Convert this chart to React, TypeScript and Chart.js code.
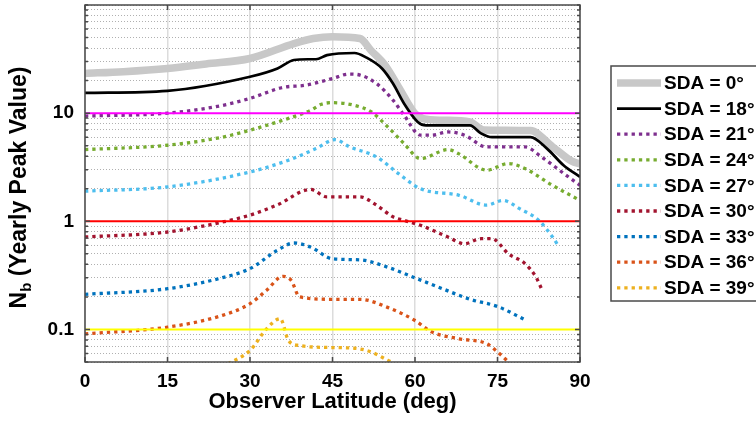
import { useEffect, useRef } from 'react';
import { Chart, registerables } from 'chart.js';

Chart.register(...registerables);

const FONT = '"Liberation Sans", Arial, Helvetica, sans-serif';

// ---- data ----
const LAT_0 = [0, 7, 15, 22, 30, 38, 41.5, 45, 50, 52, 54.5, 57, 60, 61.5, 65, 70, 72.5, 81, 85, 88.5, 90];
const NB_0 = [23.3, 24.2, 25.9, 28.5, 32, 44, 49, 51, 49, 38, 28, 17.5, 9.9, 8.9, 8.6, 8.3, 7.0, 6.9, 4.9, 3.6, 3.4];

const LAT_18 = [0, 15, 30, 35, 38, 40.5, 42, 44, 49, 51, 54, 56, 58, 60.5, 62, 70, 72, 74, 81, 84, 87, 90];
const NB_18 = [15.4, 16.1, 21.7, 25.9, 31, 31.5, 31.5, 34.4, 36, 33, 25.9, 18.8, 12.3, 8.3, 7.7, 7.7, 6.5, 6.0, 6.0, 4.7, 3.3, 2.57];

const LAT_21 = [0, 15, 25, 30, 36, 40, 45, 48, 50, 53, 56, 58, 61, 63, 66, 69, 73, 80, 83, 87, 90];
const NB_21 = [9.4, 10.0, 11.8, 13.7, 17.3, 18.1, 20.9, 23, 22.5, 18.8, 13.2, 9.6, 6.25, 6.25, 6.7, 6.25, 4.87, 4.87, 3.94, 2.78, 2.15];

const LAT_24 = [0, 15, 25, 30, 37, 41, 43, 45, 49, 52, 55, 58, 61, 66, 68, 73, 77, 80, 85, 90];
const NB_24 = [4.6, 5.05, 6.0, 6.96, 8.94, 10.6, 12.1, 12.5, 11.8, 10.3, 7.5, 5.24, 3.8, 4.6, 4.2, 2.97, 3.42, 3.07, 2.15, 1.56];

const LAT_27 = [0, 15, 30, 37, 42, 45.5, 48, 53, 57, 61, 68, 73, 76, 79, 82.5, 85, 86];
const NB_27 = [1.9, 2.08, 2.86, 3.67, 4.7, 5.7, 4.9, 3.94, 2.76, 2.0, 1.74, 1.41, 1.56, 1.31, 1.02, 0.716, 0.6];

const LAT_30 = [0, 15, 25, 30, 35, 41, 44, 50, 53, 56, 58, 61, 66, 69, 72, 74, 77, 80, 82, 83];
const NB_30 = [0.716, 0.796, 0.985, 1.14, 1.42, 1.97, 1.68, 1.68, 1.41, 1.1, 1.02, 0.918, 0.716, 0.62, 0.69, 0.69, 0.5, 0.406, 0.305, 0.238];

const LAT_33 = [0, 15, 25, 30, 35, 38, 41, 45, 50, 55, 60, 65, 70, 75, 80];
const NB_33 = [0.211, 0.238, 0.301, 0.365, 0.54, 0.63, 0.578, 0.45, 0.44, 0.377, 0.3, 0.238, 0.19, 0.163, 0.123];

const LAT_36 = [0, 15, 25, 30, 33, 36, 37.5, 39, 45, 50, 55, 60, 63, 68, 73, 75, 77];
const NB_36 = [0.091, 0.105, 0.135, 0.173, 0.23, 0.31, 0.284, 0.2, 0.19, 0.19, 0.16, 0.121, 0.095, 0.082, 0.074, 0.062, 0.05];

const LAT_39 = [26, 30, 33, 35.5, 37, 39, 45, 49, 52, 55, 56];
const NB_39 = [0.048, 0.064, 0.101, 0.126, 0.079, 0.071, 0.068, 0.067, 0.062, 0.052, 0.049];

const SERIES_LABELS = ['SDA = 0°', 'SDA = 18°', 'SDA = 21°', 'SDA = 24°', 'SDA = 27°', 'SDA = 30°', 'SDA = 33°', 'SDA = 36°', 'SDA = 39°'];
const SERIES_LATS = [LAT_0, LAT_18, LAT_21, LAT_24, LAT_27, LAT_30, LAT_33, LAT_36, LAT_39];
const SERIES_VALUES = [NB_0, NB_18, NB_21, NB_24, NB_27, NB_30, NB_33, NB_36, NB_39];

const REF_LEVELS = [10, 1, 0.1];
const X_RANGE = [0, 90];
const X_STEP = 15;
const Y_RANGE = [0.05, 100];
const Y_GRID_VALUES = [
  0.05, 0.06, 0.07, 0.08, 0.09,
  0.1, 0.2, 0.3, 0.4, 0.5, 0.6, 0.7, 0.8, 0.9,
  1, 2, 3, 4, 5, 6, 7, 8, 9,
  10, 20, 30, 40, 50, 60, 70, 80, 90, 100,
];
const Y_TICK_LABELS = [0.1, 1, 10];

// ---- styles ----
const SERIES_COLORS = ['#c8c8c8', '#000000', '#7e2f8e', '#77ac30', '#4dbeee', '#a2142f', '#0072bd', '#d95319', '#edb120'];
const SERIES_WIDTHS = [7.5, 2.7, 3.3, 3.3, 3.3, 3.3, 3.3, 3.3, 3.3];
const SERIES_DOTTED = [false, false, true, true, true, true, true, true, true];
const DOT_DASH = [3.3, 4];
const REF_COLORS = ['#ff00ff', '#ff0000', '#ffff00'];

const framePlugin = {
  id: 'frame',
  afterDatasetsDraw(chart: any) {
    const { ctx, chartArea: a, scales } = chart;
    ctx.save();
    ctx.strokeStyle = '#4a4a4a';
    ctx.lineWidth = 1.5;
    ctx.setLineDash([]);
    ctx.beginPath();
    for (const v of Y_GRID_VALUES) {
      const y = scales.y.getPixelForValue(v);
      const len = Y_TICK_LABELS.includes(v) ? 5 : 3;
      ctx.moveTo(a.left, y);
      ctx.lineTo(a.left + len, y);
      ctx.moveTo(a.right, y);
      ctx.lineTo(a.right - len, y);
    }
    for (const t of scales.x.ticks) {
      const x = scales.x.getPixelForValue(t.value);
      ctx.moveTo(x, a.top);
      ctx.lineTo(x, a.top + 5);
      ctx.moveTo(x, a.bottom);
      ctx.lineTo(x, a.bottom - 5);
    }
    ctx.stroke();
    ctx.strokeRect(a.left, a.top, a.right - a.left, a.bottom - a.top);
    ctx.restore();
  },
  afterDraw(chart: any) {
    const { ctx, chartArea: a } = chart;
    // y axis title with subscript
    ctx.save();
    const cy = (a.top + a.bottom) / 2 + 4;
    ctx.translate(26, cy);
    ctx.rotate(-Math.PI / 2);
    ctx.fillStyle = '#000';
    ctx.textBaseline = 'alphabetic';
    const big = `bold 23px ${FONT}`;
    const small = `bold 15px ${FONT}`;
    ctx.font = big;
    const wN = ctx.measureText('N').width;
    const rest = ' (Yearly Peak Value)';
    const wR = ctx.measureText(rest).width;
    ctx.font = small;
    const wb = ctx.measureText('b').width;
    const total = wN + wb + wR;
    let x = -total / 2;
    ctx.font = big;
    ctx.textAlign = 'left';
    ctx.fillText('N', x, 0);
    x += wN;
    ctx.font = small;
    ctx.fillText('b', x, 5);
    x += wb;
    ctx.font = big;
    ctx.fillText(rest, x, 0);
    ctx.restore();

    // legend
    ctx.save();
    const boxL = 611, boxT = 66, boxB = 301;
    ctx.fillStyle = '#ffffff';
    ctx.fillRect(boxL, boxT, 200, boxB - boxT);
    ctx.strokeStyle = '#4a4a4a';
    ctx.lineWidth = 1.5;
    ctx.strokeRect(boxL, boxT, 200, boxB - boxT);
    ctx.font = `bold 19px ${FONT}`;
    ctx.textBaseline = 'middle';
    ctx.textAlign = 'left';
    let row = 0;
    chart.data.datasets.forEach((ds: any) => {
      if (!ds.inLegend) return;
      const y = 83 + row * 25.6;
      ctx.beginPath();
      ctx.strokeStyle = ds.borderColor;
      ctx.lineWidth = ds.borderWidth;
      ctx.setLineDash(ds.borderDash || []);
      ctx.moveTo(617, y);
      ctx.lineTo(661, y);
      ctx.stroke();
      ctx.setLineDash([]);
      ctx.fillStyle = '#000';
      ctx.fillText(ds.label, 664, y + 1);
      row++;
    });
    ctx.restore();
  },
};

export default function App() {
  const ref = useRef<HTMLCanvasElement>(null);
  useEffect(() => {
    const canvas = ref.current;
    if (!canvas) return;
    const datasets: any[] = SERIES_LABELS.map((label, i) => ({
      label,
      inLegend: true,
      data: SERIES_LATS[i].map((lat, j) => ({ x: lat, y: SERIES_VALUES[i][j] })),
      borderColor: SERIES_COLORS[i],
      backgroundColor: SERIES_COLORS[i],
      borderWidth: SERIES_WIDTHS[i],
      borderDash: SERIES_DOTTED[i] ? DOT_DASH : [],
      cubicInterpolationMode: 'monotone',
      pointRadius: 0,
      fill: false,
      clip: 0,
      order: 100 - i,
    }));
    REF_LEVELS.forEach((lvl, i) => {
      datasets.push({
        label: `ref ${lvl}`,
        inLegend: false,
        data: X_RANGE.map((x) => ({ x, y: lvl })),
        borderColor: REF_COLORS[i],
        borderWidth: 2,
        pointRadius: 0,
        fill: false,
        clip: 0,
        order: 0,
      });
    });
    const tickFont = { family: FONT, size: 19, weight: 'bold' as const };
    const chart = new Chart(canvas, {
      type: 'line',
      data: { datasets },
      options: {
        animation: false,
        responsive: false,
        maintainAspectRatio: false,
        devicePixelRatio: 1,
        layout: { padding: { left: 0, right: 176, top: 5, bottom: 0 } },
        plugins: { legend: { display: false }, tooltip: { enabled: false } },
        scales: {
          x: {
            type: 'linear',
            min: X_RANGE[0],
            max: X_RANGE[1],
            ticks: { stepSize: X_STEP, font: tickFont, color: '#000', padding: 8, maxRotation: 0, autoSkip: false },
            grid: { color: '#dcdcdc', lineWidth: 1.5, drawTicks: false },
            border: { display: false },
            title: {
              display: true,
              text: 'Observer Latitude (deg)',
              color: '#000',
              font: { family: FONT, size: 22, weight: 'bold' },
              padding: { top: 0, bottom: 18 },
            },
            afterFit: (s: any) => { s.height = 71; s.paddingLeft = 0; s.paddingRight = 0; },
          },
          y: {
            type: 'logarithmic',
            min: Y_RANGE[0],
            max: Y_RANGE[1],
            afterBuildTicks: (s: any) => { s.ticks = Y_GRID_VALUES.map((v) => ({ value: v })); },
            ticks: {
              autoSkip: false,
              font: tickFont,
              color: '#000',
              padding: 11,
              callback: (v: any) => (Y_TICK_LABELS.includes(Number(v)) ? String(v) : ''),
            },
            grid: { color: '#b0b0b0', lineWidth: 1, drawTicks: false, borderDash: [1, 2] } as any,
            border: { display: false, dash: [1, 2] },
            afterFit: (s: any) => { s.width = 85; s.paddingTop = 0; s.paddingBottom = 0; },
          },
        },
      } as any,
      plugins: [framePlugin],
    });
    return () => chart.destroy();
  }, []);
  return (
    <div style={{ position: 'absolute', left: 0, top: 0, width: 756, height: 433, overflow: 'hidden', background: '#fff' }}>
      <canvas ref={ref} width={756} height={433} style={{ display: 'block', width: 756, height: 433 }} />
    </div>
  );
}
